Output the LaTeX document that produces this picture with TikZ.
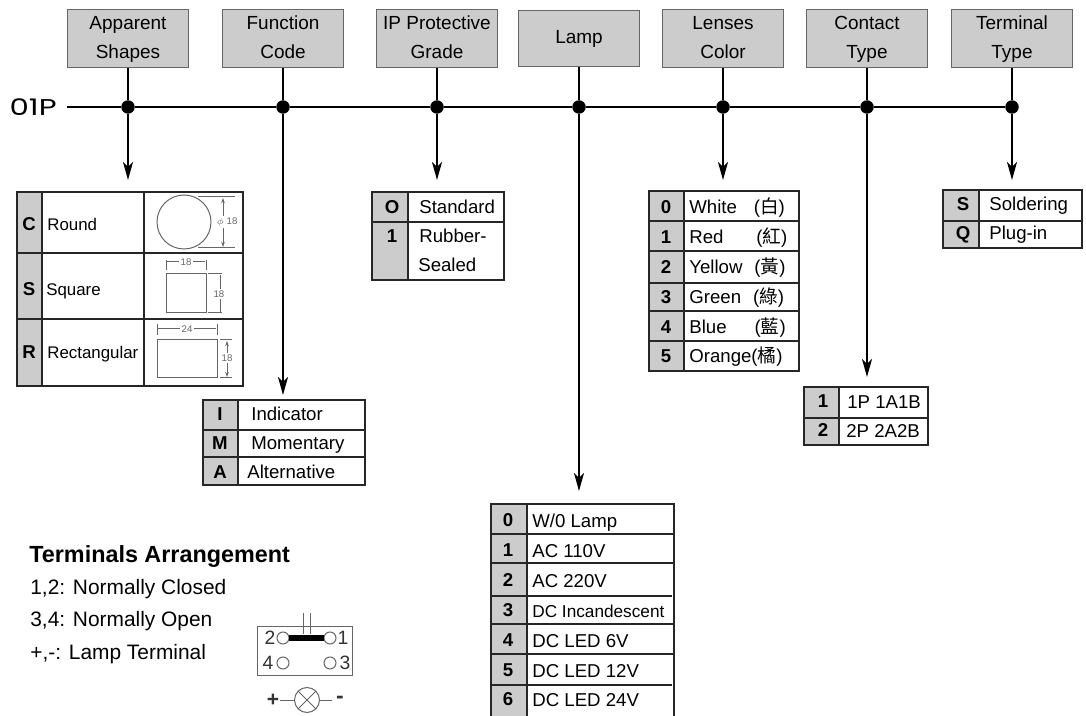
\documentclass[tikz,border=0pt]{standalone}
\usepackage{fontspec}
\setmainfont{Liberation Sans}
\newfontfamily\cjk{Noto Sans CJK TC}
\newfontfamily\partfont[FakeStretch=1.35]{Poppins}
\usetikzlibrary{arrows.meta}
\definecolor{keygray}{HTML}{CCCCCC}
\definecolor{icongray}{HTML}{666666}

\begin{document}
\begin{tikzpicture}
  [
    x=0.02cm,y=-0.02cm,
    >={Stealth[length=0.36cm,width=0.2cm,inset=0.1cm]},
    bus/.style={line width=0.04cm},
    head node/.style={rectangle, draw=icongray, fill=keygray, line width=0.02cm, minimum width=2.42cm, minimum height=1.14cm, inner sep=0pt, align=center, font=\fontsize{10.8}{16.4}\selectfont},
    dot node/.style={circle, fill=black, inner sep=0pt, minimum size=0.27cm},
    grid/.style={line width=0.022cm, draw=black!85},
    key/.style={inner sep=0pt, text height=9.6pt, text depth=2pt, font=\fontsize{10.6}{12}\selectfont\bfseries},
    entry/.style={inner sep=0pt, anchor=west, text height=9.6pt, text depth=2pt, font=\fontsize{10.6}{12}\selectfont},
    small entry/.style={entry, font=\fontsize{9.6}{12}\selectfont},
    note/.style={inner sep=0pt, anchor=west, text height=10.5pt, text depth=2pt, font=\fontsize{11.9}{14}\selectfont},
    icon/.style={draw=icongray, line width=0.02cm},
    tiny tips/.style={<->, >={Stealth[length=0.1cm,width=0.07cm]}},
    dim/.style={inner sep=1pt, fill=white, text=icongray, font=\fontsize{5.5}{6}\selectfont},
    digit/.style={inner sep=0pt, text=black!80, font=\fontsize{11}{12}\selectfont}
    ]
  \useasboundingbox (0,0) rectangle (1086,716);

  % headers
  \node[head node] (head1) at (128,38.5) {Apparent\strut\\Shapes\strut};
  \node[head node] (head2) at (283,38.5) {Function\strut\\Code\strut};
  \node[head node] (head3) at (437,38.5) {IP Protective\strut\\Grade\strut};
  \node[head node] (head4) at (579,38.5) {Lamp};
  \node[head node] (head5) at (723,38.5) {Lenses\strut\\Color\strut};
  \node[head node] (head6) at (867,38.5) {Contact\strut\\Type\strut};
  \node[head node] (head7) at (1012,38.5) {Terminal\strut\\Type\strut};

  \node[dot node] (dot1) at (128,107) {};
  \node[dot node] (dot2) at (283,107) {};
  \node[dot node] (dot3) at (437,107) {};
  \node[dot node] (dot4) at (579,107) {};
  \node[dot node] (dot5) at (723,107) {};
  \node[dot node] (dot6) at (867,107) {};
  \node[dot node] (dot7) at (1012,107) {};

  \node[anchor=east, inner xsep=0.2cm, inner ysep=0pt, font=\fontsize{13}{16}\selectfont\partfont] (part) at (67,107) {01P};

  \coordinate (end1) at (128,180);
  \coordinate (end2) at (283,395);
  \coordinate (end3) at (437,180);
  \coordinate (end4) at (579,491);
  \coordinate (end5) at (723,180);
  \coordinate (end6) at (867,377);
  \coordinate (end7) at (1012,180);

  \draw[bus] (part.east) -- (dot1) -- (dot2) -- (dot3) -- (dot4) -- (dot5) -- (dot6) -- (dot7);
  \path[bus, draw]
    (head1) -- (dot1)
    (head2) -- (dot2)
    (head3) -- (dot3)
    (head4) -- (dot4)
    (head5) -- (dot5)
    (head6) -- (dot6)
    (head7) -- (dot7);
  \path[bus, ->]
    (dot1) edge (end1)
    (dot2) edge (end2)
    (dot3) edge (end3)
    (dot4) edge (end4)
    (dot5) edge (end5)
    (dot6) edge (end6)
    (dot7) edge (end7);

  % apparent shapes
  \fill[keygray] (17,192) rectangle (42,386);
  \draw[grid] (17,192) rectangle (243,386) (42,192) -- (42,386) (144,192) -- (144,386)
    (17,253) -- (243,253) (17,319) -- (243,319);
  \node[key] (c) at (29,224) {C};
  \node[key] (s) at (29,289) {S};
  \node[key] (r) at (29,352) {R};
  \node[small entry] (round) at (47,224) {Round};
  \node[small entry] (square) at (46,289) {Square};
  \node[small entry] (rectangular) at (47,352) {Rectangular};

  \draw[icon] (184,222) circle (27);
  \draw[icon] (198,197) -- (235,197) (198,248) -- (235,248);
  \draw[icon, tiny tips] (223,198) -- (223,247);
  \node[dim] (dim1) at (227,222) {$\phi$ 18};
  \draw[icon] (166,274) rectangle (206,313) (166,260) -- (166,270) (206,260) -- (206,270)
    (208,274) -- (222,274) (208,313) -- (222,313)
    (157,340) rectangle (217,378) (157,324) -- (157,335) (217,324) -- (217,335)
    (220,340) -- (232,340) (220,378) -- (232,378);
  \draw[icon, tiny tips]
    (167,262) -- (205,262) (220,275) -- (220,312)
    (158,329) -- (216,329) (227,341) -- (227,377);
  \node[dim] (dim2) at (186,262) {18};
  \node[dim] (dim3) at (219,294) {18};
  \node[dim] (dim4) at (187,329) {24};
  \node[dim] (dim5) at (227,358) {18};

  % function code
  \fill[keygray] (203,400) rectangle (238,485);
  \draw[grid] (203,400) rectangle (365,485) (238,400) -- (238,485)
    (203,430) -- (365,430) (203,457) -- (365,457);
  \node[key] (i) at (220,414) {I};
  \node[key] (m) at (220,443) {M};
  \node[key] (a) at (220,472) {A};
  \node[entry] (indicator) at (251,414) {Indicator};
  \node[entry] (momentary) at (251,443) {Momentary};
  \node[entry] (alternative) at (247,472) {Alternative};

  % protective grade
  \fill[keygray] (372,192) rectangle (408,280);
  \draw[grid] (372,192) rectangle (504,280) (408,192) -- (408,280) (372,222) -- (504,222);
  \node[key] (o) at (392,207) {O};
  \node[key] (one) at (392,236) {1};
  \node[entry] (standard) at (419,207) {Standard};
  \node[entry] (rubber) at (419,236) {Rubber-};
  \node[entry] (sealed) at (418,265) {Sealed};

  % lamp
  \fill[keygray] (491,504) rectangle (527,716);
  \draw[grid] (491,716) -- (491,504) -- (674,504) -- (674,716) (527,504) -- (527,716)
    (491,534) -- (674,534) (491,563) -- (674,563) (490,596) -- (672,596)
    (491,624) -- (674,624) (491,654) -- (674,654) (490,685) -- (672,685);
  \node[key] (l0) at (508,520) {0};
  \node[key] (l1) at (508,550) {1};
  \node[key] (l2) at (508,580) {2};
  \node[key] (l3) at (508,610) {3};
  \node[key] (l4) at (508,640) {4};
  \node[key] (l5) at (508,670) {5};
  \node[key] (l6) at (508,699) {6};
  \node[entry] (nolamp) at (532,521) {W/0 Lamp};
  \node[entry] (ac110) at (532,551) {AC 110V};
  \node[entry] (ac220) at (532,581) {AC 220V};
  \node[entry, font=\fontsize{9.8}{12}\selectfont] (incand) at (532,611) {DC Incandescent};
  \node[entry] (led6) at (532,641) {DC LED 6V};
  \node[entry] (led12) at (532,671) {DC LED 12V};
  \node[entry] (led24) at (532,700) {DC LED 24V};

  % lenses color
  \fill[keygray] (649,191) rectangle (684,371);
  \draw[grid] (649,191) rectangle (799,371) (684,191) -- (684,371)
    (649,221) -- (799,221) (649,251) -- (799,251) (649,283) -- (799,283)
    (649,311) -- (799,311) (649,341) -- (799,341);
  \node[key] (c0) at (666,207) {0};
  \node[key] (c1) at (666,237) {1};
  \node[key] (c2) at (666,267) {2};
  \node[key] (c3) at (666,297) {3};
  \node[key] (c4) at (666,327) {4};
  \node[key] (c5) at (666,356) {5};
  \node[entry] (white) at (689,207) {White\hspace{9.6pt}({\cjk 白})};
  \node[entry] (red) at (689,237) {Red\hspace{18.7pt}({\cjk 紅})};
  \node[entry] (yellow) at (689,267) {Yellow\hspace{6.8pt}({\cjk 黃})};
  \node[entry] (green) at (689,297) {Green\hspace{6.8pt}({\cjk 綠})};
  \node[entry] (blue) at (689,327) {Blue\hspace{16pt}({\cjk 藍})};
  \node[entry] (orange) at (689,356) {Orange({\cjk 橘})};

  % contact type
  \fill[keygray] (804,387) rectangle (839,445);
  \draw[grid] (804,387) rectangle (928,445) (839,387) -- (839,445) (804,418) -- (928,418);
  \node[key] (t1) at (823,401) {1};
  \node[key] (t2) at (823,430) {2};
  \node[entry] (p1) at (847,402) {1P 1A1B};
  \node[entry] (p2) at (846,431) {2P 2A2B};

  % terminal type
  \fill[keygray] (943,190) rectangle (979,248);
  \draw[grid] (943,190) rectangle (1082,248) (979,190) -- (979,248) (943,221) -- (1082,221);
  \node[key] (ts) at (963,204) {S};
  \node[key] (tq) at (963,233) {Q};
  \node[entry] (solder) at (989,204) {Soldering};
  \node[entry] (plug) at (989,233) {Plug-in};

  % terminals arrangement
  \node[note, text height=11.5pt, font=\fontsize{13.3}{14}\selectfont\bfseries] (title) at (29,554) {Terminals Arrangement};
  \node[note] (nc) at (30,587) {1,2: Normally Closed};
  \node[note] (no) at (30,619) {3,4: Normally Open};
  \node[note] (lt) at (30,652) {+,-: Lamp Terminal};

  \draw[icon] (257,626) rectangle (352,675);
  \draw[icon] (303,613) -- (303,634) (310,613) -- (310,634);
  \draw[icon] (283,638) circle (6) (330,638) circle (6) (283,663) circle (6) (330,663) circle (6);
  \draw[line width=0.13cm] (289,638) -- (324,638);
  \node[digit] (two) at (270,638) {2};
  \node[digit] (first) at (343,638) {1};
  \node[digit] (four) at (268,663) {4};
  \node[digit] (three) at (345,663) {3};
  \node[digit, font=\fontsize{12}{12}\selectfont\bfseries] (plus) at (273,700) {+};
  \node[digit, inner xsep=0.08cm, font=\fontsize{13}{12}\selectfont\bfseries] (minus) at (340,700) {-};
  \node[circle, icon, minimum size=0.5cm, inner sep=0pt] (bulb) at (307,700) {};
  \draw[icon] (bulb.north west) -- (bulb.south east) (bulb.north east) -- (bulb.south west);
  \draw[icon] (plus) -- (bulb) (bulb) -- (minus);
\end{tikzpicture}
\end{document}
